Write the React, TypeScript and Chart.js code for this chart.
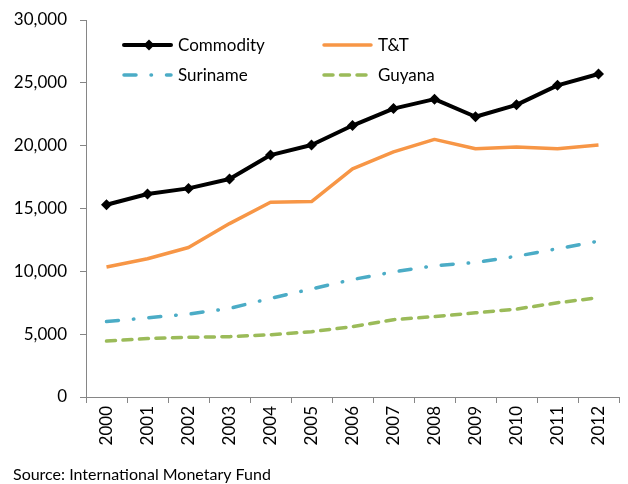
import React, { useEffect, useRef } from "react";
import { Chart, registerables } from "chart.js";

Chart.register(...registerables);

const years = ["2000", "2001", "2002", "2003", "2004", "2005", "2006", "2007", "2008", "2009", "2010", "2011", "2012"];
const commodity = [15300, 16150, 16600, 17350, 19250, 20050, 21600, 22950, 23700, 22300, 23250, 24800, 25700];
const tandt = [10350, 11000, 11900, 13800, 15500, 15550, 18150, 19500, 20500, 19750, 19900, 19750, 20050];
const suriname = [6000, 6300, 6600, 7050, 7850, 8600, 9350, 9950, 10450, 10700, 11200, 11800, 12400];
const guyana = [4450, 4650, 4750, 4800, 4950, 5200, 5600, 6150, 6400, 6700, 7000, 7500, 7900];
const seriesNames = ["Commodity", "T&T", "Suriname", "Guyana"];
const yMin = 0;
const yMax = 30000;
const yStep = 5000;
const sourceNote = "Source: International Monetary Fund";

const FONT = "Lato, 'Open Sans', sans-serif";
const AXIS = "#868686";
const COLORS = ["#000000", "#F79646", "#4BACC6", "#9BBB59"];
const DASHES: number[][] = [[], [], [12, 15, 0.5, 15], [9, 7.5]];
const WIDTHS = [4, 3.5, 3.5, 3.5];

const legendPlugin = {
  id: "customLegend",
  afterDraw(chart: any) {
    const { ctx, chartArea } = chart;
    const L = chartArea.left;
    const T = chartArea.top;
    const slots = [
      { x: L + 36, y: T + 25 },
      { x: L + 236, y: T + 25 },
      { x: L + 36, y: T + 55 },
      { x: L + 236, y: T + 55 },
    ];
    ctx.save();
    seriesNames.forEach((name, i) => {
      const s = slots[i];
      ctx.beginPath();
      ctx.strokeStyle = COLORS[i];
      ctx.lineWidth = WIDTHS[i];
      ctx.lineCap = "round";
      ctx.setLineDash(DASHES[i]);
      ctx.moveTo(s.x + 2, s.y);
      ctx.lineTo(s.x + 49, s.y);
      ctx.stroke();
      ctx.setLineDash([]);
      if (i === 0) {
        const cx = s.x + 27;
        ctx.fillStyle = COLORS[i];
        ctx.beginPath();
        ctx.moveTo(cx, s.y - 5.5);
        ctx.lineTo(cx + 5.5, s.y);
        ctx.lineTo(cx, s.y + 5.5);
        ctx.lineTo(cx - 5.5, s.y);
        ctx.closePath();
        ctx.fill();
      }
      ctx.fillStyle = "#000000";
      ctx.font = `17px ${FONT}`;
      ctx.textBaseline = "middle";
      ctx.textAlign = "left";
      ctx.fillText(name, s.x + 56, s.y + 1);
    });
    ctx.font = `16px ${FONT}`;
    ctx.fillStyle = "#000000";
    ctx.textBaseline = "middle";
    ctx.fillText(sourceNote, 13, 475);
    ctx.restore();
  },
};

export default function App() {
  const ref = useRef<HTMLCanvasElement | null>(null);

  useEffect(() => {
    if (!ref.current) return;
    const seriesData = [commodity, tandt, suriname, guyana];
    const chart = new Chart(ref.current, {
      type: "line",
      data: {
        labels: years,
        datasets: seriesData.map((d, i) => ({
          label: seriesNames[i],
          data: d,
          borderColor: COLORS[i],
          backgroundColor: COLORS[i],
          borderWidth: WIDTHS[i],
          borderDash: DASHES[i],
          borderCapStyle: i >= 2 ? "round" : "butt",
          borderJoinStyle: "round",
          tension: 0,
          pointRadius: i === 0 ? 5.5 : 0,
          pointStyle: "rectRot",
          pointBorderWidth: 0,
          fill: false,
        })) as any,
      },
      options: {
        responsive: false,
        animation: false,
        devicePixelRatio: 1,
        layout: { padding: { left: 0, right: 9, top: 20, bottom: 0 } },
        plugins: {
          legend: { display: false },
          tooltip: { enabled: false },
          title: { display: false },
        },
        scales: {
          x: {
            offset: true,
            grid: {
              offset: true,
              drawOnChartArea: false,
              drawTicks: true,
              tickLength: 6,
              color: AXIS,
            },
            border: { display: true, color: AXIS, width: 1 },
            ticks: {
              minRotation: 90,
              maxRotation: 90,
              padding: 3,
              color: "#000000",
              font: { family: FONT, size: 17 },
            },
            afterFit: (s: any) => {
              s.height = 87;
              s.paddingLeft = 0;
              s.paddingRight = 0;
            },
          },
          y: {
            min: yMin,
            max: yMax,
            grid: {
              drawOnChartArea: false,
              drawTicks: true,
              tickLength: 6,
              color: AXIS,
            },
            border: { display: true, color: AXIS, width: 1 },
            ticks: {
              stepSize: yStep,
              padding: 13,
              color: "#000000",
              font: { family: FONT, size: 17 },
              callback: (v: any) => Number(v).toLocaleString("en-US"),
            },
            afterFit: (s: any) => {
              s.width = 86;
              s.paddingTop = 0;
              s.paddingBottom = 0;
            },
          },
        },
      },
      plugins: [legendPlugin],
    });
    return () => chart.destroy();
  }, []);

  return (
    <div style={{ position: "absolute", left: 0, top: 0, width: 628, height: 484, background: "#ffffff" }}>
      <canvas ref={ref} width={628} height={484} style={{ width: 628, height: 484, display: "block" }} />
    </div>
  );
}
